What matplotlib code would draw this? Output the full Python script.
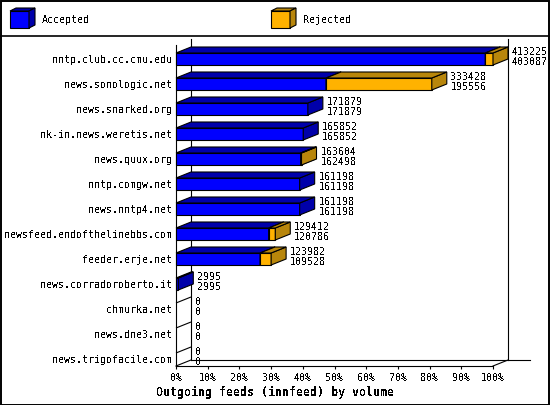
import matplotlib
matplotlib.use("Agg")
import matplotlib.pyplot as plt
from matplotlib.patches import Polygon, Rectangle
from matplotlib.lines import Line2D

# ---------------- data ----------------
sites = ["nntp.club.cc.cmu.edu", "news.sonologic.net", "news.snarked.org",
         "nk-in.news.weretis.net", "news.quux.org", "nntp.comgw.net",
         "news.nntp4.net", "newsfeed.endofthelinebbs.com", "feeder.erje.net",
         "news.corradoroberto.it", "chmurka.net", "news.dne3.net",
         "news.trigofacile.com"]
offered = [413225, 333428, 171879, 165852, 163604, 161198, 161198,
           129412, 123982, 2995, 0, 0, 0]
accepted = [403087, 195556, 171879, 165852, 162498, 161198, 161198,
            120786, 109528, 2995, 0, 0, 0]
series_names = ["Accepted", "Rejected"]
xticks_pct = [0, 10, 20, 30, 40, 50, 60, 70, 80, 90, 100]
xlabel = "Outgoing feeds (innfeed) by volume"

# ---------------- style ----------------
plt.rcParams['font.family'] = ['DejaVu Sans Mono']
plt.rcParams['text.antialiased'] = False
FS = 7.2
BLUE, BLUE_D = '#0000FF', '#0000AA'
ORNG, ORNG_D = '#FFB200', '#B8860B'
LW = 0.8

W, H = 550, 405
fig = plt.figure(figsize=(W / 100, H / 100), dpi=100)
fig.patch.set_facecolor('white')

ax = fig.add_axes([176 / W, 39 / H, 317 / W, 321 / H])
ax.set_xlim(0, 100)
YBOT, YTOP = 12.28, -0.56
ax.set_ylim(YBOT, YTOP)
ax.set_facecolor('none')
for s in ['top', 'right']:
    ax.spines[s].set_visible(False)
for s in ['left', 'bottom']:
    ax.spines[s].set_linewidth(LW)
    ax.spines[s].set_color('black')

PXX = 317 / 100.0       # pixels per percent
PXY = 25.0              # pixels per category
DX = 15 / PXX           # depth in data units
DY = 6 / PXY
HALF = 6 / PXY

maxv = max(offered)

def box(x0, x1, y, front, dark, z):
    yt, yb = y - HALF, y + HALF
    if x1 > x0:
        ax.add_patch(Rectangle((x0, yt), x1 - x0, yb - yt, facecolor=front,
                               edgecolor='black', lw=LW, zorder=z, clip_on=False))
        ax.add_patch(Polygon([(x1, yt), (x1 + DX, yt - DY), (x1 + DX, yb - DY), (x1, yb)],
                             closed=True, facecolor=dark, edgecolor='black', lw=LW,
                             zorder=z, clip_on=False))
    ax.add_patch(Polygon([(x0, yt), (x1, yt), (x1 + DX, yt - DY), (x0 + DX, yt - DY)],
                         closed=True, facecolor=dark, edgecolor='black', lw=LW,
                         zorder=z, clip_on=False))

# back wall / floor lines
wall = dict(color='black', lw=LW, zorder=1, clip_on=False)
ax.add_line(Line2D([DX, DX], [YBOT - DY, YTOP - DY], **wall))
ax.add_line(Line2D([100 + DX, 100 + DX], [YBOT - DY, YTOP - DY], **wall))
ax.add_line(Line2D([DX, 100 + DX + 7], [YBOT - DY, YBOT - DY], **wall))
ax.add_line(Line2D([0, DX], [YBOT, YBOT - DY], **wall))
ax.add_line(Line2D([100, 100 + DX], [YBOT, YBOT - DY], **wall))

for i, (off, acc) in enumerate(zip(offered, accepted)):
    a = acc / maxv * 100
    t = off / maxv * 100
    z = 3 + i * 0.01
    box(0, a, i, BLUE, BLUE_D, z)
    if t > a:
        box(a, t, i, ORNG, ORNG_D, z + 0.005)
    xt = max(a, t) + DX + 4 / PXX
    ax.text(xt, i - 0.32, str(off), ha='left', va='center_baseline', fontsize=FS, zorder=5)
    ax.text(xt, i + 0.08, str(acc), ha='left', va='center_baseline', fontsize=FS, zorder=5)

ax.set_yticks(range(len(sites)))
ax.set_yticklabels(sites, fontsize=FS)
ax.tick_params(axis='y', length=0, pad=3)
ax.set_xticks(xticks_pct)
ax.set_xticklabels([f"{v}%" for v in xticks_pct], fontsize=FS)
ax.tick_params(axis='x', direction='out', length=2.4, width=LW, pad=2.5)

fig.text(0.5, 1 - 392 / H, xlabel, ha='center', va='center',
         fontsize=8.4, fontweight='bold')

# ---------------- legend ----------------
def fx(px):
    return px / W

def fy(py):
    return 1 - py / H

def cube(x0, front, dark):
    x1, y0, y1, d, e = x0 + 19, 11, 28, 6, 3
    fig.add_artist(Polygon([(fx(x0), fy(y0)), (fx(x1), fy(y0)), (fx(x1), fy(y1)), (fx(x0), fy(y1))],
                           closed=True, transform=fig.transFigure, facecolor=front,
                           edgecolor='black', lw=LW))
    fig.add_artist(Polygon([(fx(x0), fy(y0)), (fx(x1), fy(y0)), (fx(x1 + d), fy(y0 - e)), (fx(x0 + d), fy(y0 - e))],
                           closed=True, transform=fig.transFigure, facecolor=dark,
                           edgecolor='black', lw=LW))
    fig.add_artist(Polygon([(fx(x1), fy(y0)), (fx(x1 + d), fy(y0 - e)), (fx(x1 + d), fy(y1 - e)), (fx(x1), fy(y1))],
                           closed=True, transform=fig.transFigure, facecolor=dark,
                           edgecolor='black', lw=LW))

cube(10, BLUE, BLUE_D)
fig.text(fx(42), fy(20), series_names[0], ha='left', va='center', fontsize=FS)
cube(271, ORNG, ORNG_D)
fig.text(fx(303), fy(20), series_names[1], ha='left', va='center', fontsize=FS)

fig.add_artist(Line2D([0, 1], [fy(35.5), fy(35.5)], transform=fig.transFigure,
                      color='black', lw=1.2))
fig.add_artist(Rectangle((0.5 / W, 0.5 / H), 1 - 1.5 / W, 1 - 1.5 / H,
                         transform=fig.transFigure, fill=False, edgecolor='black', lw=1.4))

fig.savefig('out.png', dpi=100)
